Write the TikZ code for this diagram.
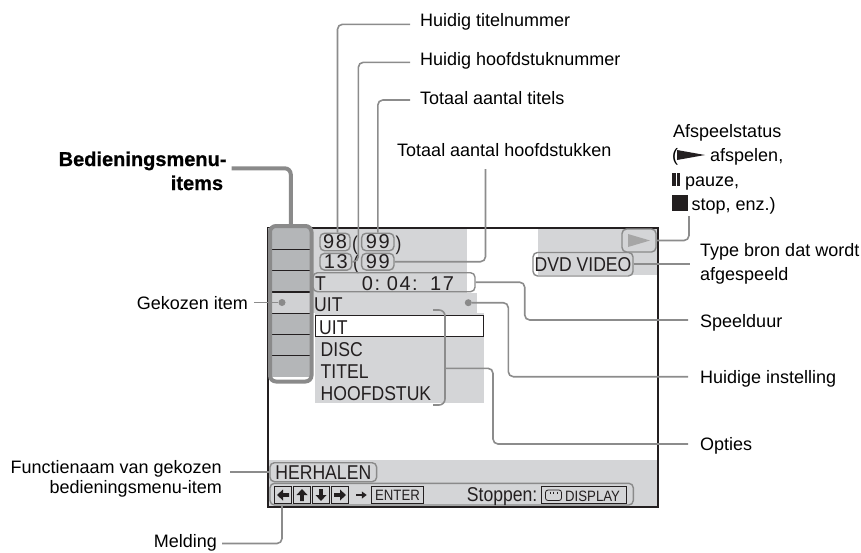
\documentclass[tikz,border=0pt]{standalone}
\usepackage{fontspec}
\setmainfont{Liberation Sans}
\newfontfamily\scr[FakeStretch=0.88]{Liberation Sans}
\newfontfamily\dig[LetterSpace=7.5]{Liberation Sans}
\newfontfamily\blk[FakeBold=0.8]{Liberation Sans Bold}
\usetikzlibrary{arrows.meta}
\definecolor{lg}{RGB}{212,213,215}
\definecolor{cellg}{RGB}{180,182,184}
\definecolor{selg}{RGB}{208,209,211}
\definecolor{outg}{RGB}{138,138,138}
\definecolor{cong}{RGB}{140,140,140}
\definecolor{ink}{RGB}{35,31,32}
\definecolor{trig}{RGB}{166,166,166}
\begin{document}
\begin{tikzpicture}[x=1pt,y=-1pt,
 lbl/.style={font=\fontsize{18}{21}\selectfont, inner sep=0pt, text=black},
 blbl/.style={font=\blk\fontsize{20}{24}\selectfont, inner sep=0pt, text=black},
 stxt/.style={font=\scr\fontsize{20}{22}\selectfont, inner sep=0pt, text=ink},
 dtxt/.style={font=\dig\fontsize{20}{22}\selectfont, inner sep=0pt, text=ink},
 smtxt/.style={font=\scr\fontsize{15}{17}\selectfont, inner sep=0pt, text=ink},
 pill/.style={draw=outg, line width=1.4pt, rounded corners=4.5pt, inner sep=0pt},
 kbox/.style={draw=ink, line width=0.9pt, inner sep=0pt},
 conn/.style={draw=cong, line width=1.6pt, rounded corners=5pt},
 menuline/.style={draw=outg, line width=4pt, rounded corners=6pt},
 keyarrow/.style={fill=ink},
]
\useasboundingbox (0,0) rectangle (861,552);

% ---- screen backgrounds
\fill[lg] (311,228) rectangle (467,293);
\fill[lg] (311,293) rectangle (477,313);
\fill[lg] (315,313) rectangle (484,403);
\fill[lg] (538,228) rectangle (658,275);
\fill[lg] (268,460) rectangle (658,507);
\draw[ink, line width=2pt] (268,228) rectangle (658,507);

% ---- menu column
\foreach \i in {0,...,6} {
  \fill[cellg] (268,{228+21.3*\i}) rectangle (309.5,{228+21.3*(\i+1)});
}
\fill[selg] (268,{228+21.3*3}) rectangle (309.5,{228+21.3*4});
\foreach \i in {1,...,6} {
  \draw[ink, line width=1.2pt] (268,{228+21.3*\i}) -- (309.5,{228+21.3*\i});
}
\node[menuline, minimum width=41.5, minimum height=155.5, anchor=north west, inner sep=0pt] (menu) at (268,224) {};
\node[circle, fill=outg, inner sep=0pt, minimum size=7] (seldot) at (282,302.5) {};

% ---- info rows
\node[pill, dtxt, minimum width=30, minimum height=17.5] (n98) at (335,242) {98};
\node[stxt, anchor=base west] (p1) at (352,250) {(};
\node[pill, dtxt, minimum width=32.3, minimum height=17.5] (n99a) at (377.8,242) {99};
\node[stxt, anchor=base west] (p2) at (395.5,250) {)};
\node[pill, dtxt, minimum width=31.7, minimum height=16.7] (n13) at (335.8,261.7) {13};
\node[stxt, anchor=base west] (p3) at (353,269.5) {(};
\node[pill, dtxt, minimum width=32.3, minimum height=16.7] (n99b) at (377.8,261.7) {99};

\node[pill, minimum width=162, minimum height=19] (tp) at (394,282.2) {};
\node[stxt, anchor=base west] (tT) at (315,290) {T};
\node[dtxt, anchor=base west] (tt1) at (361.7,290) {0:};
\node[dtxt, anchor=base west] (tt2) at (386.7,290) {04:};
\node[dtxt, anchor=base west] (tt3) at (430,290) {17};

\node[stxt, anchor=base west] (cur) at (314,311.7) {UIT};
\node[circle, fill=outg, inner sep=0pt, minimum size=7] (curdot) at (468.3,302.7) {};

\node[kbox, fill=white, minimum width=168.3, minimum height=21, anchor=north west] (selbox) at (315,315) {};
\node[stxt, anchor=base west] (o1) at (319,334.5) {UIT};
\node[stxt, anchor=base west] (o2) at (320.5,356.5) {DISC};
\node[stxt, anchor=base west] (o3) at (320.5,378) {TITEL};
\node[stxt, anchor=base west] (o4) at (320.5,400) {HOOFDSTUK};

\node[pill, minimum width=34, minimum height=23] (stat) at (639,240.5) {};
\fill[trig] (628,234) -- (650,240.5) -- (628,247) -- cycle;
\node[pill, stxt, minimum width=100, minimum height=23.5] (dvd) at (583,264.2) {DVD VIDEO};

% ---- bottom band
\node[pill, stxt, minimum width=106.7, minimum height=19] (herh) at (323.3,472.2) {HERHALEN};
\node[pill, minimum width=363.3, minimum height=21.7] (msg) at (451.65,494.15) {};
\node[kbox, minimum width=17.5, minimum height=16.6] (k1) at (283,495) {};
\node[kbox, minimum width=17.5, minimum height=16.6] (k2) at (302,495) {};
\node[kbox, minimum width=17.5, minimum height=16.6] (k3) at (321,495) {};
\node[kbox, minimum width=17.5, minimum height=16.6] (k4) at (340,495) {};
% left
\fill[keyarrow] (277,495) -- (283,489.5) -- (283,493.2) -- (289,493.2) -- (289,496.8) -- (283,496.8) -- (283,500.5) -- cycle;
% up
\fill[keyarrow] (302,489) -- (307.5,495) -- (303.8,495) -- (303.8,501) -- (300.2,501) -- (300.2,495) -- (296.5,495) -- cycle;
% down
\fill[keyarrow] (321,501) -- (326.5,495) -- (322.8,495) -- (322.8,489) -- (319.2,489) -- (319.2,495) -- (315.5,495) -- cycle;
% right
\fill[keyarrow] (346,495) -- (340,489.5) -- (340,493.2) -- (334,493.2) -- (334,496.8) -- (340,496.8) -- (340,500.5) -- cycle;
\node[kbox, smtxt, minimum width=51.6, minimum height=16.6] (enter) at (397.5,495) {ENTER};
\draw[ink, line width=1.5pt, -{Triangle[length=5pt,width=7pt]}] ([xshift=7]k4.east) -- ([xshift=-4.5]enter.west);
\node[stxt, anchor=base west] (stop) at (466.7,501.5) {Stoppen:};
\node[kbox, minimum width=85, minimum height=16.6] (disp) at (584.2,495) {};
\draw[ink, line width=0.8pt, rounded corners=2.5pt] (545.5,490) rectangle (561.5,500.5);
\draw[ink, line width=0.7pt] (550,491.6) -- (550,493.8) (553.5,491.6) -- (553.5,493.8) (557,491.6) -- (557,493.8);
\node[smtxt, anchor=base west] (dispt) at (565,501.5) {DISPLAY};

% ---- labels
\node[lbl, anchor=base west] (tl1) at (420,26.7) {Huidig titelnummer};
\node[lbl, anchor=base west] (tl2) at (420,65) {Huidig hoofdstuknummer};
\node[lbl, anchor=base west] (tl3) at (420,104.5) {Totaal aantal titels};
\node[lbl, anchor=base west] (tl4) at (397,156.5) {Totaal aantal hoofdstukken};

\node[lbl, anchor=base west] (as1) at (673,137) {Afspeelstatus};
\node[lbl, anchor=base west] (as2a) at (672,161) {(};
\fill[ink] (677,150) -- (705,155) -- (677,160) -- cycle;
\node[lbl, anchor=base west] (as2b) at (710,161) {afspelen,};
\fill[ink] (672.3,172.5) rectangle (675.6,186);
\fill[ink] (676.8,172.5) rectangle (680.1,186);
\node[lbl, anchor=base west] (as3) at (685,186) {pauze,};
\fill[ink] (672.3,195) rectangle (688,210.5);
\node[lbl, anchor=base west] (as4) at (691.5,210.5) {stop, enz.)};
\node[lbl, anchor=base west] (tb1) at (700,256) {Type bron dat wordt};
\node[lbl, anchor=base west] (tb2) at (700,280) {afgespeeld};
\node[lbl, anchor=base west] (sp) at (700,327) {Speelduur};
\node[lbl, anchor=base west] (hi) at (700,383) {Huidige instelling};
\node[lbl, anchor=base west] (op) at (700,450) {Opties};

\node[blbl, anchor=base east] (bm1) at (226.7,166) {Bedieningsmenu-};
\node[blbl, anchor=base east] (bm2) at (223.3,190) {items};
\node[lbl, anchor=base east] (gk) at (248,309) {Gekozen item};
\node[lbl, anchor=base east] (fn1) at (222,473) {Functienaam van gekozen};
\node[lbl, anchor=base east] (fn2) at (222,493) {bedieningsmenu-item};
\node[lbl, anchor=base east] (ml) at (217,547.5) {Melding};

% ---- connectors
\coordinate (c1s) at (410,24.3);
\coordinate (c2s) at (410,62.3);
\coordinate (c3s) at (410,100);
\coordinate (c4s) at (485.5,169);
\coordinate (c5e) at (689,216);
\coordinate (c6e) at (690,264.2);
\coordinate (c7e) at (688,320);
\coordinate (c8e) at (688,376.7);
\coordinate (c9e) at (688,444);
\coordinate (bmid) at (445,368.3);
\coordinate (gkc) at (254,302.5);
\coordinate (fnc) at (230,472.2);
\coordinate (mlc) at (222,543.5);
\coordinate (bmc) at (231.5,168.3);

\draw[conn] (c1s) -| ([xshift=2.5]n98.north);
\draw[conn] (c2s) -| ([xshift=6]n13.east) -- (n13.east);
\draw[conn] (c3s) -| (n99a.north);
\draw[conn] (c4s) |- (n99b.east);
\draw[conn] (stat.east) -| (c5e);
\draw[conn] (dvd.east) -- (c6e);
\draw[conn] (tp.east) -- ++(49,0) |- (c7e);
\draw[conn] (curdot) -- ++(40,0) |- (c8e);
\draw[conn, rounded corners=6pt] (433,310) -- (445,310) -- (445,405) -- (433,405);
\draw[conn] (bmid) -- ++(48,0) |- (c9e);
\draw[conn] (gkc) -- (seldot);
\draw[conn] (fnc) -- (herh.west);
\draw[conn] (mlc) -| ([xshift=12.7]msg.south west);
\draw[menuline] (bmc) -| (menu.north);
\end{tikzpicture}
\end{document}
